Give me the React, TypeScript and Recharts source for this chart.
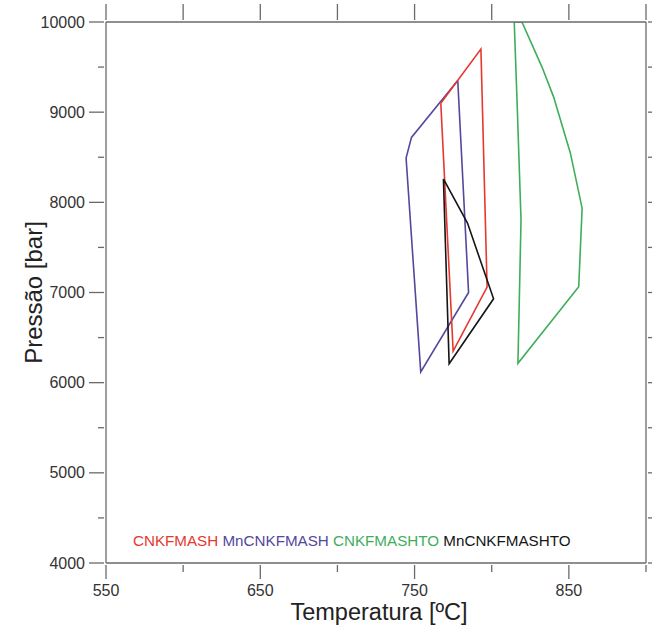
import { LineChart, Line, XAxis, YAxis, Legend } from 'recharts';

// tick values
const X_TICKS = [550, 600, 650, 700, 750, 800, 850, 900];
const X_LABELED = [550, 650, 750, 850];
const Y_TICKS = [4000, 4500, 5000, 5500, 6000, 6500, 7000, 7500, 8000, 8500, 9000, 9500, 10000];
const Y_LABELED = [4000, 5000, 6000, 7000, 8000, 9000, 10000];

// closed P-T fields (temperature ºC, pressure bar)
const CNKFMASH_T = [767, 793, 797, 775, 767];
const CNKFMASH_P = [9100, 9700, 7060, 6350, 9100];

const MN_CNKFMASH_T = [778, 748, 744.5, 754, 785, 778];
const MN_CNKFMASH_P = [9350, 8720, 8490, 6120, 7000, 9350];

const CNKFMASHTO_T = [814.6, 819.6, 832.6, 840.1, 851, 858.6, 856.4, 817, 819, 816.4, 814.6];
const CNKFMASHTO_P = [10000, 10000, 9500, 9170, 8545, 7935, 7065, 6215, 7805, 9135, 10000];

const MN_CNKFMASHTO_T = [768.7, 784.3, 801.2, 772.4, 768.7];
const MN_CNKFMASHTO_P = [8260, 7770, 6930, 6210, 8260];

const SERIES_NAMES = ['CNKFMASH', 'MnCNKFMASH', 'CNKFMASHTO', 'MnCNKFMASHTO'];
const SERIES_COLORS = ['#e5392f', '#55479c', '#3fae5c', '#151515'];

const toPoints = (t: number[], p: number[]) => t.map((v, i) => ({ t: v, p: p[i] }));

const FONT = '"Liberation Sans", Arial, sans-serif';
const AXIS = '#6a6a6a';

const BottomTick = (props: any) => {
  const { x, y, payload } = props;
  const major = X_LABELED.includes(payload.value);
  return (
    <g>
      <line x1={x} y1={y} x2={x} y2={y + (major ? 14 : 7)} stroke={AXIS} strokeWidth={1.3} />
      {major && (
        <text x={x} y={y + 31} textAnchor="middle" fontSize={16} fontFamily={FONT} fill="#333">
          {payload.value}
        </text>
      )}
    </g>
  );
};

const TopTick = (props: any) => {
  const { x, y } = props;
  return <line x1={x} y1={y} x2={x} y2={y - 16} stroke={AXIS} strokeWidth={1.3} />;
};

const LeftTick = (props: any) => {
  const { x, y, payload } = props;
  const major = Y_LABELED.includes(payload.value);
  return (
    <g>
      <line x1={x} y1={y} x2={x - (major ? 15 : 6)} y2={y} stroke={AXIS} strokeWidth={1.3} />
      {major && (
        <text x={x - 19} y={y + 5.5} textAnchor="end" fontSize={16} fontFamily={FONT} fill="#333">
          {payload.value}
        </text>
      )}
    </g>
  );
};

const RightTick = (props: any) => {
  const { x, y } = props;
  return <line x1={x} y1={y} x2={x + 6} y2={y} stroke={AXIS} strokeWidth={1.3} />;
};

const YTitle = (props: any) => {
  const { viewBox } = props;
  const cx = viewBox.x + 33;
  const cy = viewBox.y + viewBox.height / 2;
  return (
    <text x={cx} y={cy} transform={`rotate(-90, ${cx}, ${cy})`} textAnchor="middle"
      dominantBaseline="central" fontSize={24} fontFamily={FONT} fill="#222">
      Pressão [bar]
    </text>
  );
};

const XTitle = (props: any) => {
  const { viewBox } = props;
  return (
    <text x={viewBox.x + viewBox.width / 2 + 3} y={viewBox.y + 57} textAnchor="middle"
      fontSize={23.5} fontFamily={FONT} fill="#222">
      Temperatura [ºC]
    </text>
  );
};

const LegendText = (props: any) => {
  const items = [...(props.payload || [])].sort(
    (a: any, b: any) => SERIES_NAMES.indexOf(a.value) - SERIES_NAMES.indexOf(b.value)
  );
  return (
    <div style={{ fontFamily: FONT, fontSize: 15.2, whiteSpace: 'nowrap', lineHeight: '18px' }}>
      {items.map((it: any, i: number) => (
        <span key={it.value} style={{ color: it.color }}>
          {it.value}
          {i < items.length - 1 ? ' ' : ''}
        </span>
      ))}
    </div>
  );
};

export default function App() {
  const series = [
    { name: SERIES_NAMES[1], color: SERIES_COLORS[1], data: toPoints(MN_CNKFMASH_T, MN_CNKFMASH_P) },
    { name: SERIES_NAMES[0], color: SERIES_COLORS[0], data: toPoints(CNKFMASH_T, CNKFMASH_P) },
    { name: SERIES_NAMES[3], color: SERIES_COLORS[3], data: toPoints(MN_CNKFMASHTO_T, MN_CNKFMASHTO_P) },
    { name: SERIES_NAMES[2], color: SERIES_COLORS[2], data: toPoints(CNKFMASHTO_T, CNKFMASHTO_P) },
  ];

  return (
    <div style={{ position: 'absolute', left: 0, top: 0, background: '#fff' }}>
      <LineChart width={652} height={629} margin={{ top: 0, right: 0, bottom: 0, left: 0 }}>
        <XAxis
          type="number"
          dataKey="t"
          domain={[550, 900]}
          allowDataOverflow
          ticks={X_TICKS}
          interval={0}
          height={66}
          tickSize={0}
          tickLine={false}
          tick={BottomTick}
          axisLine={{ stroke: AXIS, strokeWidth: 1.3 }}
          label={<XTitle />}
        />
        <XAxis
          xAxisId="top"
          orientation="top"
          type="number"
          dataKey="t"
          domain={[550, 900]}
          allowDataOverflow
          ticks={X_TICKS}
          interval={0}
          height={22}
          tickSize={0}
          tickLine={false}
          tick={TopTick}
          axisLine={{ stroke: AXIS, strokeWidth: 1.3 }}
        />
        <YAxis
          type="number"
          dataKey="p"
          domain={[4000, 10000]}
          allowDataOverflow
          ticks={Y_TICKS}
          interval={0}
          width={106}
          tickSize={0}
          tickLine={false}
          tick={LeftTick}
          axisLine={{ stroke: AXIS, strokeWidth: 1.3 }}
          label={<YTitle />}
        />
        <YAxis
          yAxisId="right"
          orientation="right"
          type="number"
          dataKey="p"
          domain={[4000, 10000]}
          allowDataOverflow
          ticks={Y_TICKS}
          interval={0}
          width={6}
          tickSize={0}
          tickLine={false}
          tick={RightTick}
          axisLine={{ stroke: AXIS, strokeWidth: 1.3 }}
        />
        <Legend
          layout="horizontal"
          verticalAlign="middle"
          align="center"
          content={<LegendText />}
          wrapperStyle={{ left: 133, top: 532, width: 'auto' }}
        />
        {series.map((s) => (
          <Line
            key={s.name}
            name={s.name}
            data={s.data}
            dataKey="p"
            type="linear"
            stroke={s.color}
            strokeWidth={1.6}
            dot={false}
            activeDot={false}
            isAnimationActive={false}
          />
        ))}
      </LineChart>
    </div>
  );
}
